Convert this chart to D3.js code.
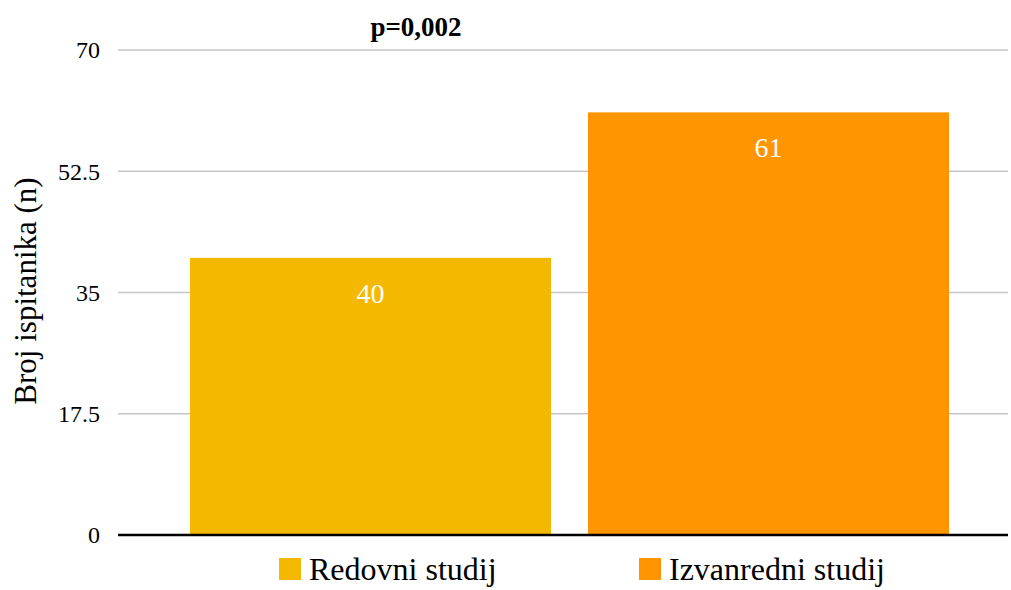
<!DOCTYPE html>
<html>
<head>
<meta charset="utf-8">
<script src="https://cdn.jsdelivr.net/npm/d3@7"></script>
<style>
  body { margin: 0; background: #fff; }
</style>
</head>
<body>
<svg class="chart"></svg>
<script>
var categories = ["Redovni studij", "Izvanredni studij"];
var values = [40, 61];
var colors = ["#F5B800", "#FF9500"];
var yTicks = [0, 17.5, 35, 52.5, 70];

var font = "'Liberation Serif', 'Times New Roman', Tinos, 'DejaVu Serif', serif";
var width = 1011, height = 590;
var svg = d3.select(".chart").attr("width", width).attr("height", height)
    .style("font-family", font);

var y = d3.scaleLinear().domain([0, 70]).range([535, 50]);
var x = d3.scaleBand().domain(categories).range([171.5, 967.5])
    .paddingInner(0.093).paddingOuter(0.0465);

// gridlines
svg.selectAll(".grid").data(yTicks.slice(1)).enter().append("line")
    .attr("x1", 118).attr("x2", 1008)
    .attr("y1", function(d) { return y(d); })
    .attr("y2", function(d) { return y(d); })
    .attr("stroke", "#c6c6c6").attr("stroke-width", 1.5);

// tick labels
svg.selectAll(".tick").data(yTicks).enter().append("text")
    .attr("x", 100)
    .attr("y", function(d) { return y(d); })
    .attr("dy", "0.35em")
    .attr("text-anchor", "end")
    .attr("font-family", font)
    .style("font-size", "24px")
    .text(function(d) { return d; });

// bars
svg.selectAll(".bar").data(values).enter().append("rect")
    .attr("x", function(d, i) { return x(categories[i]); })
    .attr("y", function(d) { return y(d); })
    .attr("width", x.bandwidth())
    .attr("height", function(d) { return y(0) - y(d); })
    .attr("fill", function(d, i) { return colors[i]; });

// value labels
svg.selectAll(".val").data(values).enter().append("text")
    .attr("x", function(d, i) { return x(categories[i]) + x.bandwidth() / 2; })
    .attr("y", function(d) { return y(d) + 45; })
    .attr("text-anchor", "middle")
    .attr("fill", "#fff")
    .attr("font-family", font)
    .style("font-size", "28px")
    .text(function(d) { return d; });

// baseline
svg.append("line").attr("x1", 118).attr("x2", 1008)
    .attr("y1", y(0)).attr("y2", y(0))
    .attr("stroke", "#000").attr("stroke-width", 2.5);

// axis title
svg.append("text")
    .attr("transform", "translate(36," + 291 + ") rotate(-90)")
    .attr("text-anchor", "middle")
    .attr("font-family", font)
    .style("font-size", "31px")
    .text("Broj ispitanika (n)");

// title
svg.append("text")
    .attr("x", 416).attr("y", 36)
    .attr("text-anchor", "middle")
    .attr("font-family", font)
    .style("font-size", "27px").style("font-weight", "bold")
    .text("p=0,002");

// legend
var legendX = [279, 639];
var lg = svg.selectAll(".legend").data(categories).enter().append("g")
    .attr("transform", function(d, i) { return "translate(" + legendX[i] + ",558)"; });
lg.append("rect").attr("width", 22).attr("height", 22)
    .attr("fill", function(d, i) { return colors[i]; });
lg.append("text").attr("x", 30).attr("y", 22)
    .attr("font-family", font)
    .style("font-size", "32px")
    .text(function(d) { return d; });
</script>
</body>
</html>
